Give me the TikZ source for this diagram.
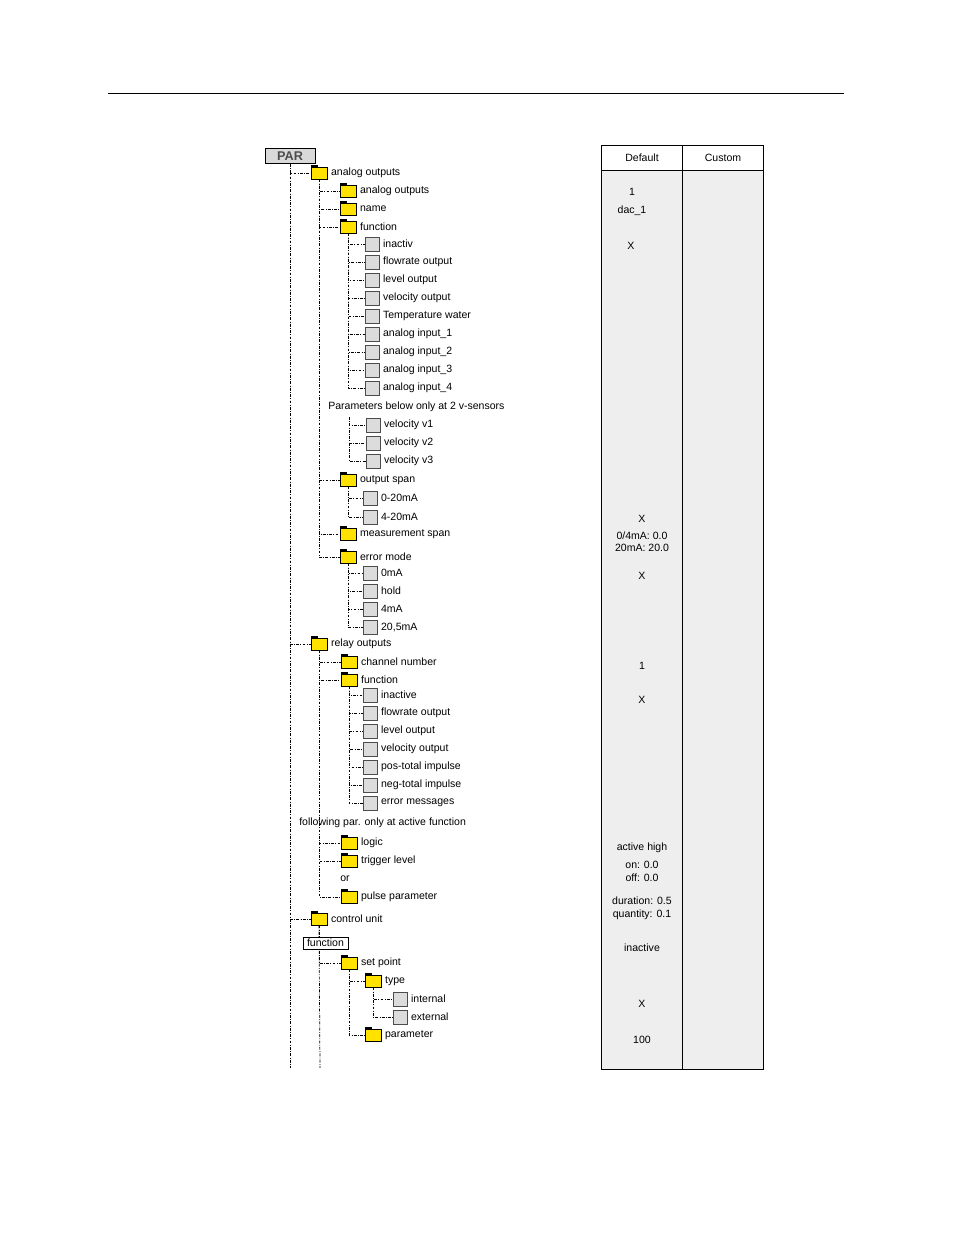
\documentclass[tikz,border=0pt]{standalone}
\usepackage{fontspec}
\setmainfont{Liberation Sans}
\usetikzlibrary{positioning}

\definecolor{folderyellow}{HTML}{FFE200}
\definecolor{optgray}{HTML}{DCDCDC}
\definecolor{tablegray}{HTML}{EEEEEE}

\tikzset{
  folder/.style={draw=black, fill=folderyellow, line width=0.5pt, minimum width=12pt, minimum height=9pt, inner sep=0pt,
    every label/.style={inner sep=0pt, xshift=3pt, yshift=-1pt}},
  optbox/.style={draw=gray!60!black, fill=optgray, line width=0.5pt, minimum width=10.5pt, minimum height=10.5pt, inner sep=0pt,
    every label/.style={inner sep=0pt, xshift=5pt, yshift=-0.5pt}},
  link/.style={line width=0.55pt, dash pattern=on 2.2pt off 1pt on 0.6pt off 1pt},
  cell/.style={align=center, inner sep=0pt},
}

\begin{document}
\begin{tikzpicture}[x=0.75pt, y=-0.75pt]
\fontsize{7.9}{9.4}\selectfont
	\useasboundingbox (0,0) rectangle (954,1235);

	%% page rule
	\draw[line width=0.6pt] (108,93) -- (844,93);

	%% table
	\fill[tablegray] (601,170) rectangle (763,1069);
	\draw[line width=0.7pt] (601,145) rectangle (763,1069);
	\draw[line width=0.7pt] (601,170) -- (763,170);
	\draw[line width=0.7pt] (682,145) -- (682,1069);
	\node[cell] (hdef) at (642,158) {Default};
	\node[cell] (hcus) at (723,158) {Custom};

	%% default values
	\node[cell] (d1) at (632,191.5) {1};
	\node[cell] (d2) at (632,210.5) {dac\_1};
	\node[cell] (d3) at (631,245.5) {X};
	\node[cell] (d4) at (642,518.5) {X};
	\node[cell] (d5) at (642,541.5) {0/4mA: 0.0\\20mA: 20.0};
	\node[cell] (d6) at (642,575.5) {X};
	\node[cell] (d7) at (642,665.5) {1};
	\node[cell] (d8) at (642,699.5) {X};
	\node[cell] (d9) at (642,847.5) {active high};
	\node[cell] (d10) at (642,871.5) {on: 0.0\\off: 0.0};
	\node[cell] (d11) at (642,908.5) {duration: 0.5\\quantity: 0.1};
	\node[cell] (d12) at (642,947.5) {inactive};
	\node[cell] (d13) at (642,1003.5) {X};
	\node[cell] (d14) at (642,1039.5) {100};

	%% root
	\node[draw, fill=gray!30, line width=0.6pt, minimum width=37.5pt, minimum height=11pt, inner sep=0pt, text=gray!60!black, font=\bfseries\fontsize{9.5}{10}\selectfont] (par) at (290,156) {PAR};
	\coordinate (end1) at (290,1068);
	\draw[link] (par.south) -- (end1);

	%% level 1
	\node[folder, label=right:{analog outputs}] (ao) at (319,173) {};
	\node[folder, label=right:{relay outputs}] (ro) at (319,644) {};
	\node[folder, label=right:{control unit}] (cu) at (319,919) {};
	\foreach \n in {ao,ro,cu} \draw[link] (par.south) |- (\n.west);

	%% analog outputs
	\node[folder, label=right:{analog outputs}] (ao2) at (348,191) {};
	\node[folder, label=right:{name}] (nm) at (348,209) {};
	\node[folder, label=right:{function}] (fn) at (348,227) {};
	\node[folder, label=right:{output span}] (os) at (348,480) {};
	\node[folder, label=right:{measurement span}] (ms) at (348,534) {};
	\node[folder, label=right:{error mode}] (em) at (348,557) {};
	\foreach \n in {ao2,nm,fn,os,ms,em} \draw[link] (ao.south) |- (\n.west);

	\foreach \n/\y/\t in {fa/244/inactiv, fb/262/flowrate output, fc/280/level output, fd/298/velocity output, fe/316/Temperature water, ff/334/analog input\_1, fg/352/analog input\_2, fh/370/analog input\_3, fi/388/analog input\_4}
	{
		\node[optbox, label=right:\t] (\n) at (372,\y) {};
		\draw[link] (fn.south) |- (\n.west);
	}

	\node[anchor=west, inner sep=0pt] (note1) at (328,407) {Parameters below only at 2 v-sensors};
	\coordinate (vs) at (349,417);
	\foreach \n/\y/\t in {va/425/velocity v1, vb/443/velocity v2, vc/461/velocity v3}
	{
		\node[optbox, label=right:\t] (\n) at (373,\y) {};
		\draw[link] (vs) |- (\n.west);
	}

	\foreach \n/\y/\t in {sa/498/0-20mA, sb/517/4-20mA}
	{
		\node[optbox, label=right:\t] (\n) at (370,\y) {};
		\draw[link] (os.south) |- (\n.west);
	}

	\foreach \n/\y/\t in {ea/573/0mA, eb/591/hold, ec/609/4mA, ed/627/{20,5mA}}
	{
		\node[optbox, label=right:\t] (\n) at (370,\y) {};
		\draw[link] (em.south) |- (\n.west);
	}

	%% relay outputs
	\node[folder, label=right:{channel number}] (cn) at (349,662) {};
	\node[folder, label=right:{function}] (rf) at (349,680) {};
	\node[anchor=west, inner sep=0pt] (note2) at (299,823) {following par. only at active function};
	\node[folder, label=right:{logic}] (lg) at (349,843) {};
	\node[folder, label=right:{trigger level}] (tl) at (349,861) {};
	\node[anchor=west, inner sep=0pt] (or) at (340,879) {or};
	\node[folder, label=right:{pulse parameter}] (pp) at (349,897) {};
	\foreach \n in {cn,rf,lg,tl,pp} \draw[link] (ro.south) |- (\n.west);

	\foreach \n/\y/\t in {ra/695/inactive, rb/713/flowrate output, rc/731/level output, rd/749/velocity output, re/767/pos-total impulse, rg/785/neg-total impulse, rh/803/error messages}
	{
		\node[optbox, label=right:\t] (\n) at (370,\y) {};
		\draw[link] (rf.south) |- (\n.west);
	}

	%% control unit
	\coordinate (end2) at (320,1068);
	\draw[link] (cu.south) -- (end2);
	\node[folder, label=right:{set point}] (sp) at (349,963) {};
	\draw[link] (cu.south) |- (sp.west);
	\node[draw, fill=white, line width=0.5pt, minimum width=34pt, minimum height=9pt, inner sep=0pt] (cf) at (325.5,943) {function};
	\node[folder, label=right:{type}] (ty) at (373,981) {};
	\node[folder, label=right:{parameter}] (pa) at (373,1035) {};
	\foreach \n in {ty,pa} \draw[link] (sp.south) |- (\n.west);
	\foreach \n/\y/\t in {ta/999/internal, tb/1017/external}
	{
		\node[optbox, label=right:\t] (\n) at (400,\y) {};
		\draw[link] (ty.south) |- (\n.west);
	}

	%% folder tabs
	\foreach \f in {ao,ro,cu,ao2,nm,fn,os,ms,em,cn,rf,lg,tl,pp,sp,ty,pa}
		\fill (\f.north west) rectangle ++(7,-2);
\end{tikzpicture}
\end{document}
